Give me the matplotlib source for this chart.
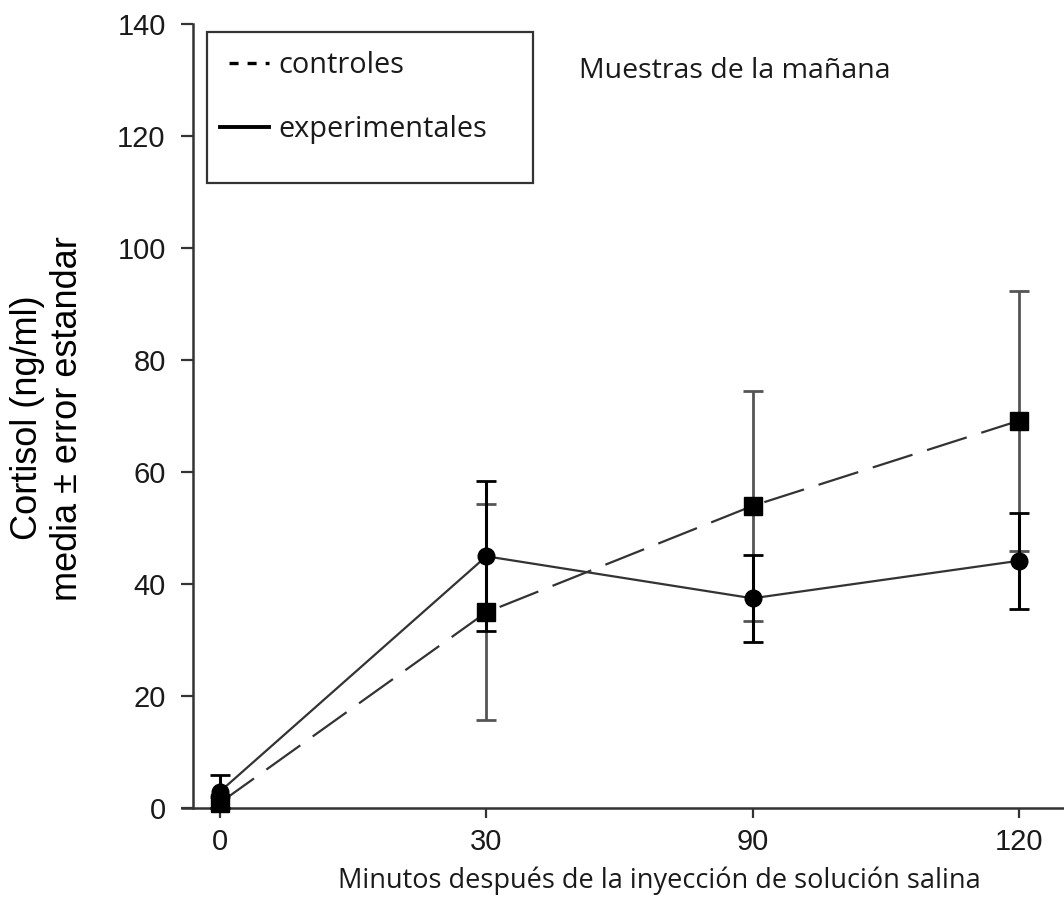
import numpy as np
import matplotlib
matplotlib.use('Agg')
import matplotlib.pyplot as plt
from matplotlib.lines import Line2D
from matplotlib.patches import Rectangle

# Cortisol, morning samples: mean and standard error per group
minutos = ["0", "30", "90", "120"]
ctrl_media = [1.0, 35.0, 54.0, 69.2]
ctrl_err = [1.0, 19.3, 20.5, 23.2]
exp_media = [3.0, 45.0, 37.5, 44.2]
exp_err = [3.0, 13.4, 7.8, 8.6]

plt.rcParams['lines.scale_dashes'] = False
tickFont = ['Liberation Sans', 'DejaVu Sans']
textFont = ['Open Sans', 'DejaVu Sans']

W, H = 1064., 918.
fig = plt.figure(figsize=(W/100, H/100), dpi=100)
ax = fig.add_axes([182/W, 1 - 808.3/H, 882/W, 784/H])

xpos = np.arange(len(minutos))

ax.errorbar(xpos, ctrl_media, yerr=ctrl_err, fmt='none', ecolor='#555555',
            elinewidth=2.0, capsize=7.5, capthick=2.0, clip_on=False, zorder=2)
ax.errorbar(xpos, exp_media, yerr=exp_err, fmt='none', ecolor='black',
            elinewidth=2.2, capsize=7.0, capthick=2.0, clip_on=False, zorder=3)

ax.plot(xpos, ctrl_media, color='#333333', lw=1.6, linestyle=(0, (30, 11)),
        marker='s', markersize=13, markerfacecolor='black',
        markeredgecolor='black', clip_on=False, zorder=4)
ax.plot(xpos, exp_media, color='#333333', lw=1.6, linestyle='-',
        marker='o', markersize=12, markerfacecolor='black',
        markeredgecolor='black', clip_on=False, zorder=5)

ax.set_xlim(-0.143, 3.17)
ax.set_ylim(0, 140)
ax.set_xticks(xpos)
ax.set_xticklabels(minutos)
ax.set_yticks(np.arange(0, 141, 20))

ax.spines['top'].set_visible(False)
ax.spines['right'].set_visible(False)
ax.spines['left'].set_position(('data', -0.10))
for s in ['left', 'bottom']:
  ax.spines[s].set_linewidth(1.8)
  ax.spines[s].set_color('#333333')
ax.tick_params(axis='both', direction='out', width=1.6, color='#333333',
               labelsize=21)
ax.tick_params(axis='x', length=7, pad=7)
ax.tick_params(axis='y', length=9, pad=11)
for lab in ax.get_xticklabels() + ax.get_yticklabels():
  lab.set_family(tickFont)
  lab.set_color('#1a1a1a')

fig.text(28/W, 1 - 418/H, "Cortisol (ng/ml)", rotation=90,
         ha='center', va='center', fontsize=26, family='Liberation Sans')
fig.text(68/W, 1 - 419/H, "media \u00b1 error estandar", rotation=90,
         ha='center', va='center', fontsize=26, family='Liberation Sans')

fig.text(659/W, 1 - 881/H, "Minutos despu\u00e9s de la inyecci\u00f3n de soluci\u00f3n salina",
         ha='center', va='center', fontsize=19.5, family=textFont, color='#1a1a1a')
ax.text(0.45, 0.94, "Muestras de la ma\u00f1ana", transform=ax.transAxes,
        fontsize=20.5, family=textFont, color='#1a1a1a', va='center')

# legend: entries without frame, box drawn separately (extra room at the bottom)
handles = [Line2D([], [], color='black', lw=2.4, linestyle=(6.5, (6.5, 6.5))),
           Line2D([], [], color='black', lw=2.8, linestyle='-')]
leg = ax.legend(handles, ['controles', 'experimentales'],
                loc='upper left', bbox_to_anchor=(220/W, 1 - 51/H),
                bbox_transform=fig.transFigure, prop={'family': textFont, 'size': 20.8},
                frameon=False, handlelength=1.68, handletextpad=0.33,
                labelspacing=1.22, borderpad=0, borderaxespad=0)
for t in leg.get_texts():
  t.set_color('#1a1a1a')
fig.patches.append(Rectangle((207/W, 1 - 183/H), 326/W, 151/H,
                             transform=fig.transFigure, fill=False,
                             edgecolor='#333333', linewidth=1.6))

fig.savefig("out.png", dpi=100)
